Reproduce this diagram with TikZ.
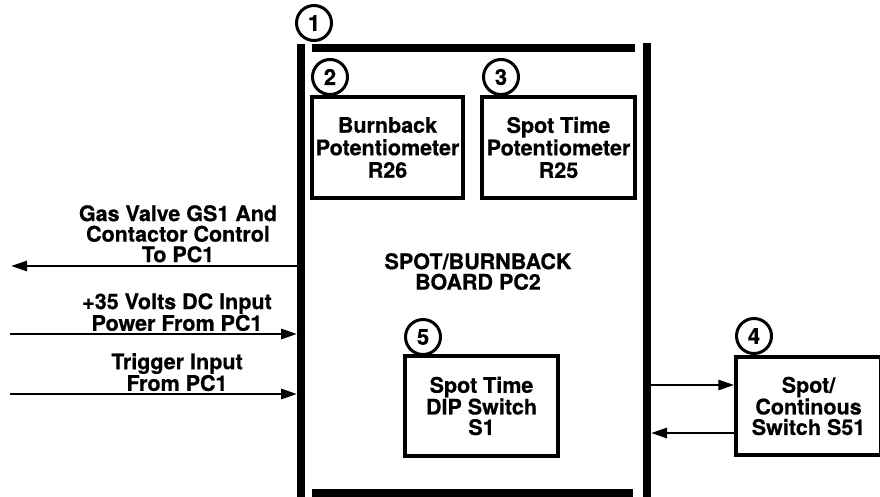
\documentclass[tikz,border=0pt]{standalone}
\usepackage{fontspec}
\newfontfamily\heavy[FakeBold=0.6]{texgyreheros-bold.otf}
\usetikzlibrary{arrows.meta}
\begin{document}
\begin{tikzpicture}[x=1pt,y=-1pt,
  lbl/.style={font=\heavy\fontsize{21.5}{20.5}\selectfont, align=center, inner sep=0pt},
  part/.style={draw, line width=3.4pt, inner sep=0pt, align=center,
               font=\heavy\fontsize{21.5}{20.5}\selectfont},
  potbox/.style={part, font=\heavy\fontsize{21.5}{22.5}\selectfont},
  num/.style={draw, circle, line width=3pt, minimum size=35pt, inner sep=0pt,
              font=\heavy\fontsize{22}{22}\selectfont},
  bar/.style={line width=8.5pt},
  wire/.style={line width=2.8pt, -{Triangle[length=16pt,width=10pt]}},
]
\useasboundingbox (0,0) rectangle (880,497);

% board outline (four thick bars)
\draw[bar] (301,44) -- (301,497);
\draw[bar] (312,48) -- (635,48);
\draw[bar] (647,43) -- (647,497);
\draw[bar] (312,493) -- (633,493);

% callout circles
\node[num] (n1) at (314,23) {1};
\node[num] (n2) at (330,77) {2};
\node[num] (n3) at (501,77) {3};
\node[num] (n4) at (754,336) {4};
\node[num] (n5) at (423,337) {5};

% parts
\node[potbox, minimum width=151pt, minimum height=101pt] (box2) at (387.5,147.5)
  {Burnback\\Potentiometer\\R26};
\node[potbox, minimum width=153pt, minimum height=101pt] (box3) at (558.5,147.5)
  {Spot Time\\Potentiometer\\R25};
\node[part, minimum width=153pt, minimum height=100pt] (box5) at (481.5,406)
  {Spot Time\\DIP Switch\\S1};
\node[part, minimum width=145pt, minimum height=98pt] (box4) at (808.5,406)
  {Spot/\\Continous\\Switch S51};

\node[lbl, anchor=north] (board) at (478,253) {SPOT/BURNBACK\\BOARD PC2};

% left signals
\node[lbl, anchor=north] (gasTxt) at (178,205) {Gas Valve GS1 And\\Contactor Control\\To PC1};
\node[lbl, anchor=north] (pwrTxt) at (177,293) {+35 Volts DC Input\\Power From PC1};
\node[lbl, anchor=north] (trgTxt) at (177,353) {Trigger Input\\From PC1};

\coordinate (gasIn) at (297,266);
\coordinate (gasOut) at (11,266);
\coordinate (pwrSrc) at (10,334);
\coordinate (pwrIn) at (297,334);
\coordinate (trgSrc) at (10,394);
\coordinate (trgIn) at (297,394);

\draw[wire] (gasIn) -- (gasOut);
\draw[wire] (pwrSrc) -- (pwrIn);
\draw[wire] (trgSrc) -- (trgIn);

% right signals
\coordinate (pin1) at (651,385);
\coordinate (pin2) at (651,433);
\draw[wire] (pin1) -- (pin1 -| box4.west);
\draw[wire] (box4.west |- pin2) -- (pin2);
\end{tikzpicture}
\end{document}
